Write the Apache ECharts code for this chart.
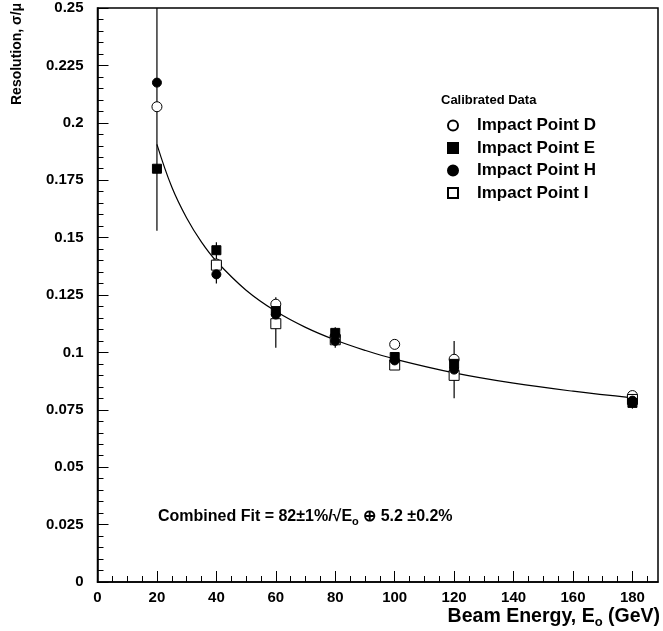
<!DOCTYPE html>
<html><head><meta charset="utf-8">
<script src="https://cdn.jsdelivr.net/npm/echarts@6/dist/echarts.min.js"></script>
<style>html,body{margin:0;padding:0;background:#fff}#c{width:663px;height:631px}</style>
</head><body><div id="c"></div>
<script>
// ---- data ----
const energies = [20, 40, 60, 80, 100, 120, 180];
const pointD = [0.207, 0.1385, 0.121, 0.107, 0.1035, 0.097, 0.0812];
const pointE = [0.180, 0.1445, 0.118, 0.1085, 0.098, 0.095, 0.078];
const pointH = [0.2175, 0.134, 0.1165, 0.105, 0.0965, 0.0925, 0.079];
const pointI = [null, 0.138, 0.1125, 0.1055, 0.0945, 0.090, 0.0795];
const errLow  = [0.153, 0.130, 0.102, 0.102, 0.094, 0.080, 0.0755];
const errHigh = [0.25, 0.148, 0.124, 0.111, 0.100, 0.105, 0.083];
// combined fit curve
const fitE = [20, 25, 30, 35, 40, 50, 60, 70, 80, 90, 100, 120, 140, 160, 180];
const fitR = [0.1906, 0.172, 0.1585, 0.148, 0.1397, 0.1271, 0.1179, 0.1109, 0.1054, 0.1009, 0.0971, 0.0911, 0.0866, 0.0831, 0.0802];
const xMajorTicks = [0, 20, 40, 60, 80, 100, 120, 140, 160, 180];
const xMinorTicks = [5,10,15,25,30,35,45,50,55,65,70,75,85,90,95,105,110,115,125,130,135,145,150,155,165,170,175,185];
const seriesNames = ['Impact Point D', 'Impact Point E', 'Impact Point H', 'Impact Point I'];

const FONT = '"Liberation Sans", Arial, sans-serif';
const SQUARE = 'path://M0,0H10V10H0Z';
const pairs = arr => energies.map((e, i) => [e, arr[i]]).filter(p => p[1] !== null);

const chart = echarts.init(document.getElementById('c'), null, {renderer: 'canvas'});
const markerSeries = (name, arr, symbol, filled, size, z) => ({
  name, type: 'scatter', data: pairs(arr), symbol, symbolSize: size, symbolKeepAspect: true, z,
  itemStyle: {color: filled ? '#000' : '#fff', borderColor: '#000', borderWidth: 1, opacity: 1},
  emphasis: {disabled: true}
});

chart.setOption({
  animation: false,
  backgroundColor: '#fff',
  grid: {left: 97.5, right: 5, top: 8, bottom: 49, show: true, borderColor: '#000', borderWidth: 1.5},
  xAxis: [{
    type: 'value', min: 0, max: 188.6,
    axisLine: {onZero: false, lineStyle: {color: '#000', width: 1.5}},
    axisTick: {inside: true, length: 11, customValues: xMajorTicks, lineStyle: {color: '#000', width: 1}},
    axisLabel: {customValues: xMajorTicks, color: '#000', fontFamily: FONT, fontWeight: 'bold', fontSize: 15, margin: 8},
    splitLine: {show: false}
  }, {
    type: 'value', min: 0, max: 188.6, position: 'bottom',
    axisLine: {show: false},
    axisTick: {inside: true, length: 6, customValues: xMinorTicks, lineStyle: {color: '#000', width: 1}},
    axisLabel: {show: false}, splitLine: {show: false}
  }],
  yAxis: {
    type: 'value', min: 0, max: 0.25, interval: 0.025,
    axisLine: {lineStyle: {color: '#000', width: 1.5}},
    axisTick: {inside: true, length: 11, lineStyle: {color: '#000', width: 1}},
    minorTick: {show: true, splitNumber: 5, length: 6, lineStyle: {color: '#000', width: 1}},
    axisLabel: {color: '#000', fontFamily: FONT, fontWeight: 'bold', fontSize: 15, margin: 14},
    splitLine: {show: false}
  },
  legend: {
    orient: 'vertical', left: 442, top: 112, itemWidth: 38, itemHeight: 10, itemGap: 5.5,
    data: seriesNames, selectedMode: false,
    textStyle: {color: '#000', fontFamily: FONT, fontWeight: 'bold', fontSize: 17, lineHeight: 17, padding: 0}
  },
  series: [
    {
      type: 'line', data: fitE.map((e, i) => [e, fitR[i]]), smooth: 0.4, showSymbol: false,
      lineStyle: {color: '#000', width: 1.2}, z: 1, silent: true
    },
    {
      type: 'custom', z: 2, silent: true,
      data: energies.map((e, i) => [e, errLow[i], errHigh[i]]),
      renderItem: (params, api) => {
        const a = api.coord([api.value(0), api.value(1)]);
        const b = api.coord([api.value(0), api.value(2)]);
        return {type: 'line', shape: {x1: a[0], y1: a[1], x2: b[0], y2: b[1]}, style: {stroke: '#000', lineWidth: 1.2}};
      }
    },
    markerSeries(seriesNames[0], pointD, 'circle', false, 10, 3),
    markerSeries(seriesNames[1], pointE, SQUARE, true, 9, 4),
    markerSeries(seriesNames[2], pointH, 'circle', true, 9, 4),
    markerSeries(seriesNames[3], pointI, SQUARE, false, 10, 3)
  ],
  graphic: [
    {type: 'text', left: 441, top: 94, style: {text: 'Calibrated Data', fill: '#000', font: 'bold 13px ' + FONT}},
    {type: 'text', left: 158, top: 509, style: {
      text: '{t|Combined Fit = 82±1%/√E}{s|o}{t| ⊕ 5.2 ±0.2%}',
      rich: {t: {fill: '#000', font: 'bold 16px ' + FONT}, s: {fill: '#000', font: 'bold 11px ' + FONT, padding: [9, 0, 0, 0]}}
    }},
    {type: 'text', right: 3, top: 607, style: {
      text: '{t|Beam Energy, E}{s|o}{t| (GeV)}',
      rich: {t: {fill: '#000', font: 'bold 19.5px ' + FONT}, s: {fill: '#000', font: 'bold 13px ' + FONT, padding: [11, 0, 0, 0]}}
    }},
    {type: 'text', x: 17, y: 105, rotation: Math.PI / 2, style: {
      text: 'Resolution, σ/μ', fill: '#000', font: 'bold 14px ' + FONT, textAlign: 'left', textVerticalAlign: 'middle'
    }}
  ]
});
</script></body></html>
